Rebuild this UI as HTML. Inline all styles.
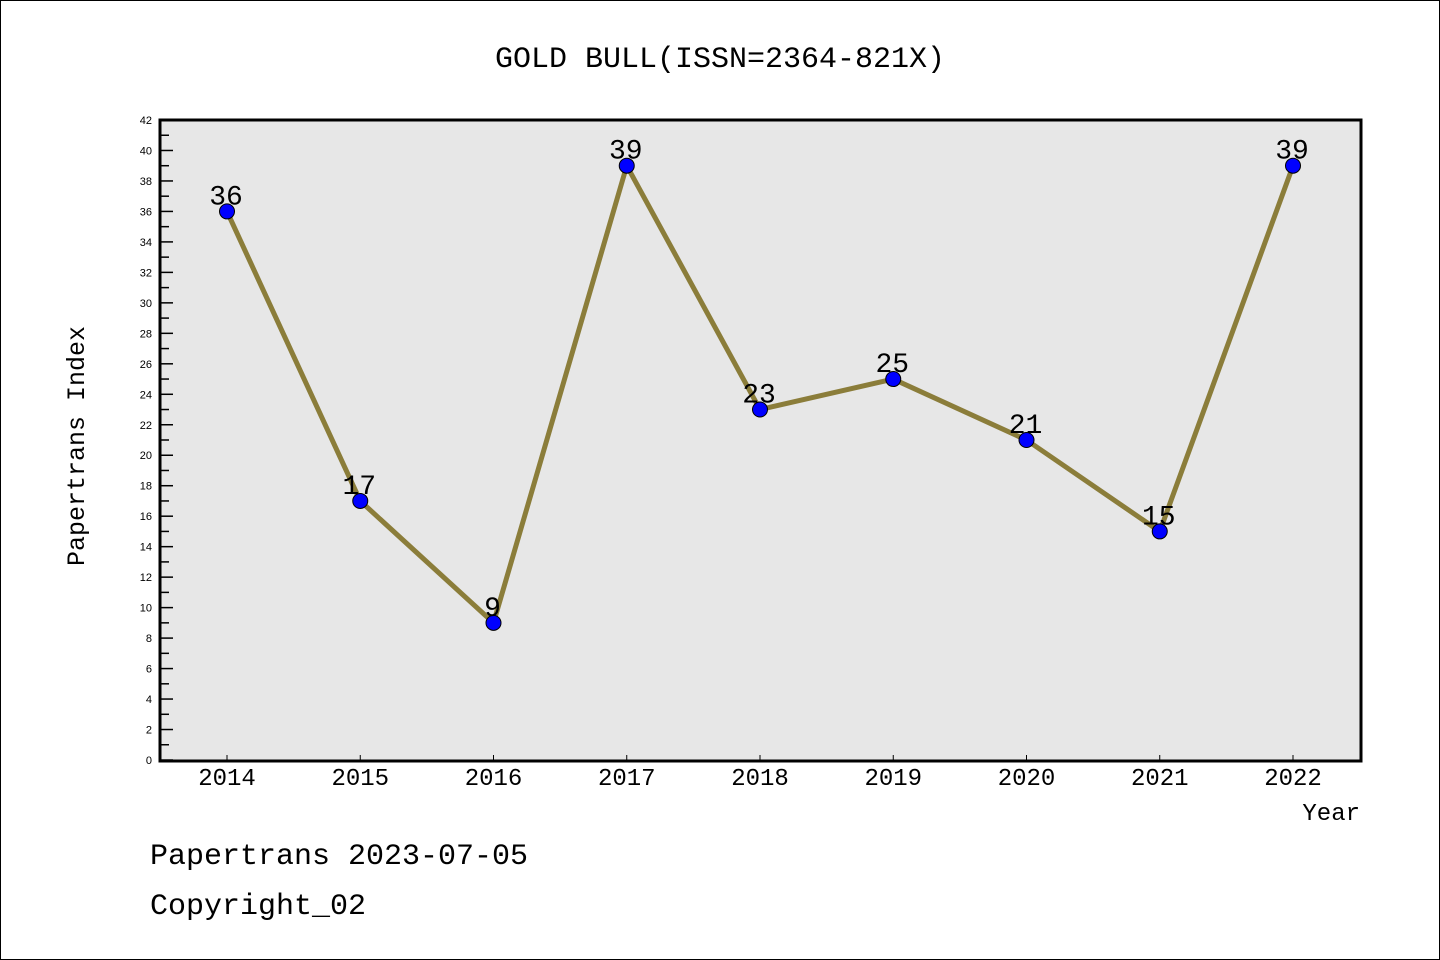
<!DOCTYPE html>
<html><head><meta charset="utf-8"><style>
html,body{margin:0;padding:0;background:#fff;}
svg{display:block;font-family:"Liberation Mono",monospace;}
</style></head><body>
<svg id="chart" width="1440" height="960">
<rect x="0.5" y="0.5" width="1439" height="959" fill="#fff" stroke="#000"/>
<text x="720" y="67" text-anchor="middle" font-size="30">GOLD BULL(ISSN=2364-821X)</text>
<rect x="160" y="120" width="1201" height="641" fill="#e7e7e7"/>
<g id="yticks"></g><g id="xticks"></g><g id="series"></g>
<rect x="160" y="120" width="1201" height="641" fill="none" stroke="#000" stroke-width="3"/>
<text transform="translate(84,446) rotate(-90)" text-anchor="middle" font-size="25">Papertrans Index</text>
<text x="1360" y="820" text-anchor="end" font-size="24">Year</text>
<text x="150" y="864" font-size="30">Papertrans 2023-07-05</text>
<text x="150" y="914" font-size="30">Copyright_02</text>
</svg>
<script>
const years=[2014,2015,2016,2017,2018,2019,2020,2021,2022];
const values=[36,17,9,39,23,25,21,15,39];
const yTickLabels=[0,2,4,6,8,10,12,14,16,18,20,22,24,26,28,30,32,34,36,38,40,42];
const NS="http://www.w3.org/2000/svg";
function X(i){return 227+i*(1293-227)/(years.length-1);}
function Y(v){return 760-v*(640/42);}
function mk(t,a,p,txt){const e=document.createElementNS(NS,t);for(const k in a)e.setAttribute(k,a[k]);if(txt!==undefined)e.textContent=txt;p.appendChild(e);return e;}
const yt=document.getElementById('yticks');
yTickLabels.forEach(v=>{
 const l=mk('line',{x1:160,x2:173,y1:Y(v),y2:Y(v),stroke:'#000','stroke-width':1.5},yt);
 
 
 if(v<42){const m=mk('line',{x1:160,x2:169,y1:Y(v+1),y2:Y(v+1),stroke:'#000','stroke-width':1.5},yt);
 
 }
 const t=mk('text',{x:152,y:Y(v)+4,'text-anchor':'end','font-size':11,'font-family':'Liberation Sans, sans-serif'},yt,String(v));
 
 
});
const xt=document.getElementById('xticks');
years.forEach((y,i)=>{
 const l=mk('line',{x1:X(i),x2:X(i),y1:761,y2:755,stroke:'#000','stroke-width':1},xt);
 
 
 const t=mk('text',{x:X(i),y:785,'text-anchor':'middle','font-size':24},xt,String(y));
 
 
});
const s=document.getElementById('series');
const pl=mk('polyline',{points:values.map((v,i)=>X(i)+','+Y(v)).join(' '),fill:'none',stroke:'#8b7d3a','stroke-width':5},s);


values.forEach((v,i)=>{
 const c=mk('circle',{cx:X(i),cy:Y(v),r:7.5,fill:'#0000ff',stroke:'#000','stroke-width':1},s);
 
 
 const t=mk('text',{x:X(i)-1,y:Y(v)-7,'text-anchor':'middle','font-size':28},s,String(v));
 
 
});
</script>
</body></html>
